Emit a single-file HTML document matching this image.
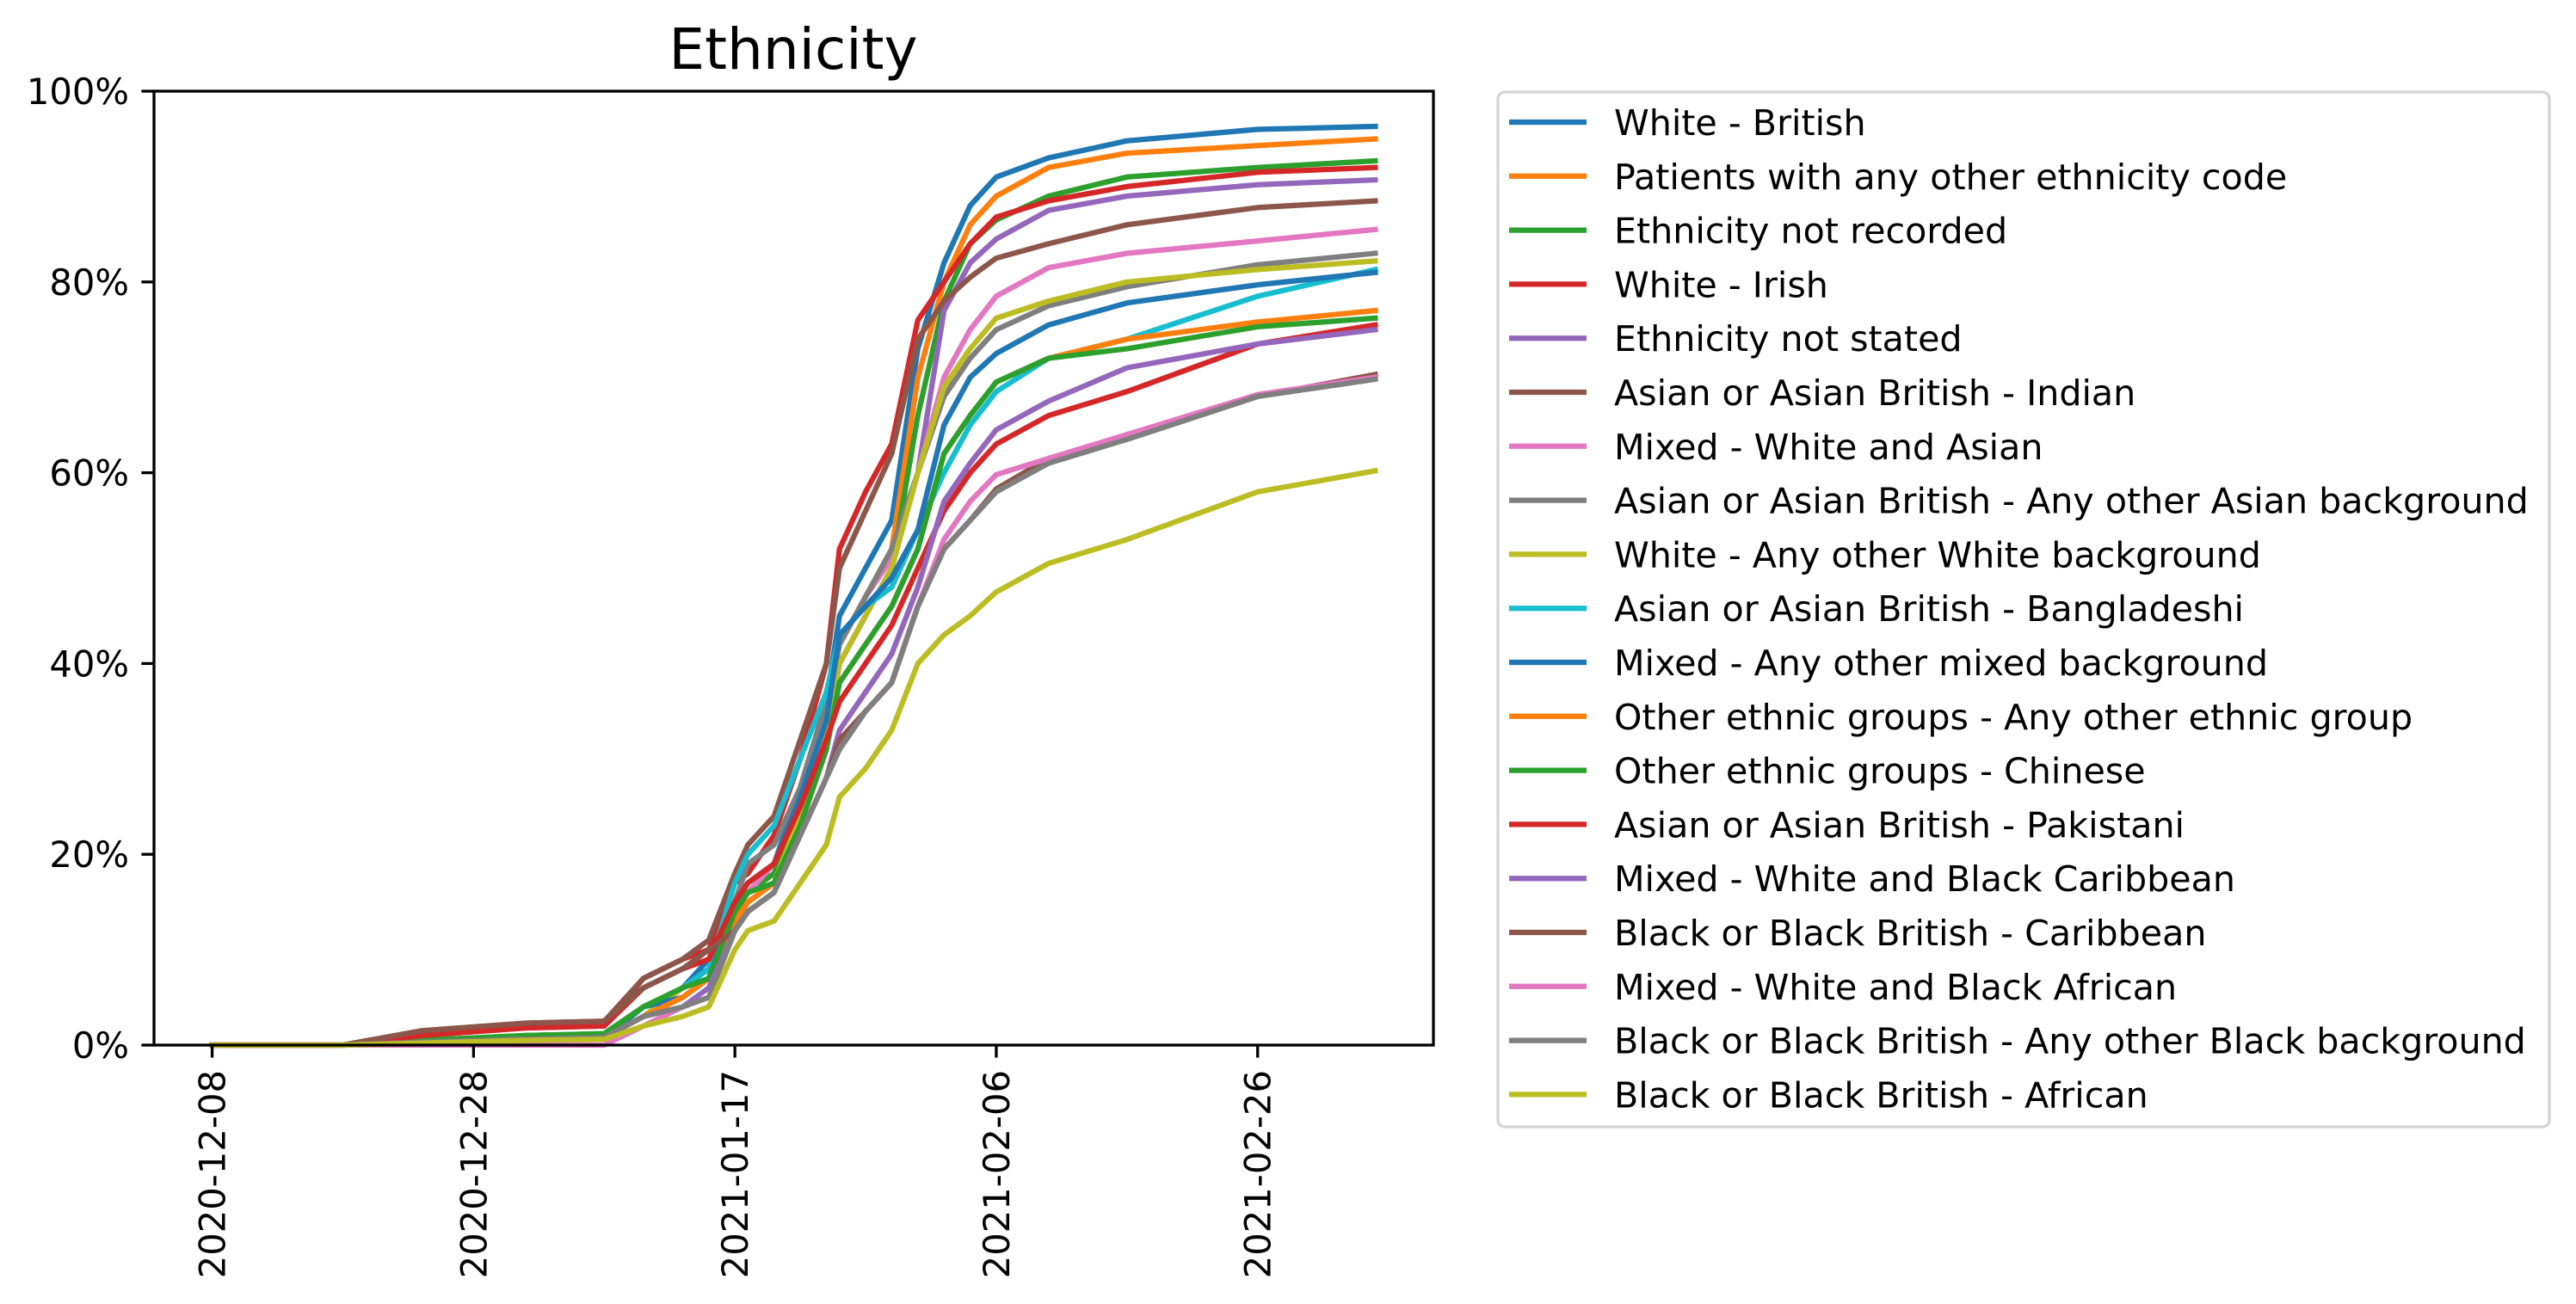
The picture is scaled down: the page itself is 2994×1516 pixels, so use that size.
<!DOCTYPE html>
<html><head><meta charset="utf-8"><style>
html,body{margin:0;padding:0;background:#fff;}
svg{display:block;font-family:"DejaVu Sans","Liberation Sans",sans-serif;}
</style></head><body>
<svg id="chart" width="2994" height="1516" viewBox="0 0 2994 1516" xmlns="http://www.w3.org/2000/svg">
<rect width="2994" height="1516" fill="#fff"/>
<text x="922" y="80" font-size="66" text-anchor="middle">Ethnicity</text>
<g id="plot"></g>
<g id="axes"></g>
<g id="legend"></g>
</svg>
<script>
const days = [0,10,16,24,30,33,36,38,40,41,43,45,47,48,50,52,54,56,58,60,64,70,80,89];
const seriesNames = ["White - British","Patients with any other ethnicity code","Ethnicity not recorded","White - Irish","Ethnicity not stated","Asian or Asian British - Indian","Mixed - White and Asian","Asian or Asian British - Any other Asian background","White - Any other White background","Asian or Asian British - Bangladeshi","Mixed - Any other mixed background","Other ethnic groups - Any other ethnic group","Other ethnic groups - Chinese","Asian or Asian British - Pakistani","Mixed - White and Black Caribbean","Black or Black British - Caribbean","Mixed - White and Black African","Black or Black British - Any other Black background","Black or Black British - African"];
const s1 = [0,0,0.5,0.8,1,4,6,9,15,17,19,27,36,45,50,55,73,82,88,91,93,94.8,96,96.3];
const s2 = [0,0,0.5,0.8,1,4,6,8,14,16,18,25,34,42,47,52,70,80,86,89,92,93.5,94.3,95];
const s3 = [0,0,0.5,1,1.2,4,6,8,15,16,18,24,33,40,45,50,66,78,84,86.5,89,91,92,92.7];
const s4 = [0,0,1,1.8,2,7,9,10,17,18,22,30,40,52,58,63,76,80,84,86.8,88.5,90,91.5,92];
const s5 = [0,0,0.3,0.6,0.8,3,5,7,13,15,17,24,32,40,45,50,60,77,82,84.5,87.5,89,90.2,90.7];
const s6 = [0,0,1.5,2.3,2.5,7,9,11,18,21,24,32,40,50,56,62,74,78,80.5,82.5,84,86,87.8,88.5];
const s7 = [0,0,0.2,0.5,0.8,3,6,8,14,16,19,26,35,42,47,51,60,70,75,78.5,81.5,83,84.3,85.5];
const s8 = [0,0,0.3,0.6,0.8,3,5,7,15,19,21,27,36,42,47,52,60,68,72,75,77.5,79.5,81.8,83];
const s9 = [0,0,0.2,0.5,0.8,3,6,8,13,15,17,24,33,40,45,50,60,69,73,76.2,78,80,81.3,82.2];
const s10 = [0,0,0.3,0.6,0.8,4,6,8,17,20,23,30,37,43,46,48,54,60,65,68.5,72,74,78.5,81.3];
const s11 = [0,0,0.3,0.6,0.8,4,5,7,15,17,19,26,34,43,46,49,54,65,70,72.5,75.5,77.8,79.7,81];
const s12 = [0,0,0.3,0.6,0.8,3,5,7,13,15,17,23,31,38,42,46,52,62,66,69.5,72,74,75.8,77];
const s13 = [0,0,0.5,1,1.2,4,6,7,14,16,17,23,31,38,42,46,52,62,66,69.5,72,73,75.3,76.2];
const s14 = [0,0,1,1.8,2,6,8,9,15,17,19,25,32,36,40,44,50,56,60,63,66,68.5,73.5,75.5];
const s15 = [0,0,0.3,0.6,0.8,3,4,6,12,14,16,22,28,33,37,41,48,57,61,64.5,67.5,71,73.5,75];
const s16 = [0,0,1.5,2.3,2.5,6,8,10,12,14,16,22,28,32,35,38,46,52,55,58.3,61.5,63.5,68,70.3];
const s17 = [0,0,0,0,0,2,4,5,12,14,16,22,28,31,35,38,46,53,57,59.8,61.5,64,68.2,70];
const s18 = [0,0,0.3,0.6,0.8,3,4,5,12,14,16,22,28,31,35,38,46,52,55,58,61,63.5,68,69.8];
const s19 = [0,0,0.2,0.5,0.6,2,3,4,10,12,13,17,21,26,29,33,40,43,45,47.5,50.5,53,58,60.2];
const xTickDays = [0,20,40,60,80];
const xTickLabels = ["2020-12-08","2020-12-28","2021-01-17","2021-02-06","2021-02-26"];
const yTickValues = [0,20,40,60,80,100];
const yTickLabels = ["0%","20%","40%","60%","80%","100%"];

const allSeries=[s1,s2,s3,s4,s5,s6,s7,s8,s9,s10,s11,s12,s13,s14,s15,s16,s17,s18,s19];
const colors=["#1f77b4","#ff7f0e","#2ca02c","#d62728","#9467bd","#8c564b","#e377c2","#7f7f7f","#bcbd22","#17becf"];
const L=179,R=1666,T=106,B=1215;
const dMin=days[0],dMax=days[days.length-1],pad=(dMax-dMin)*0.05;
function xs(d){return L+(d-(dMin-pad))/((dMax+pad)-(dMin-pad))*(R-L);}
function ys(v){return B-v/100*(B-T);}
const NS="http://www.w3.org/2000/svg";
function mk(tag,attrs,parent){const e=document.createElementNS(NS,tag);for(const k in attrs)e.setAttribute(k,attrs[k]);parent.appendChild(e);return e;}
const plot=document.getElementById('plot'),axes=document.getElementById('axes'),legend=document.getElementById('legend');
allSeries.forEach((s,i)=>{
  const pts=s.map((v,j)=>xs(days[j]).toFixed(1)+","+ys(v).toFixed(1)).join(" ");
  const pl=mk('polyline',{points:pts,fill:"none",stroke:colors[i%10],"stroke-width":6.25,"stroke-linejoin":"round","stroke-linecap":"square"},plot);
  
  
});
const frame=mk('rect',{x:L,y:T,width:R-L,height:B-T,fill:"none",stroke:"#000","stroke-width":3.3},axes);


xTickDays.forEach((d,i)=>{
  const x=xs(d);
  const t=mk('line',{x1:x,y1:B,x2:x,y2:B+14.6,stroke:"#000","stroke-width":3.3},axes);
  
  
  const lb=mk('text',{x:0,y:0,"font-size":41.7,"text-anchor":"end",transform:`translate(${x+15},${B+29}) rotate(-90)`},axes);
  lb.textContent=xTickLabels[i];
  
  
});
yTickValues.forEach((v,i)=>{
  const y=ys(v);
  const t=mk('line',{x1:L-14.6,y1:y,x2:L,y2:y,stroke:"#000","stroke-width":3.3},axes);
  
  
  const lb=mk('text',{x:L-29,y:y+15,"font-size":41.7,"text-anchor":"end"},axes);
  lb.textContent=yTickLabels[i];
  
  
});
const box=mk('rect',{x:1741,y:107,width:1222,height:1203,rx:8,fill:"#fff",stroke:"#d5d5d5","stroke-width":3.3},legend);


seriesNames.forEach((n,i)=>{
  const y=142+i*62.8;
  const g=mk('g',{},legend);
  
  
  mk('line',{x1:1754,y1:y,x2:1844,y2:y,stroke:colors[i%10],"stroke-width":6.25},g);
  const tx=mk('text',{x:1876,y:y+15,"font-size":41.2},g);
  tx.textContent=n;
});
</script>
</body></html>
